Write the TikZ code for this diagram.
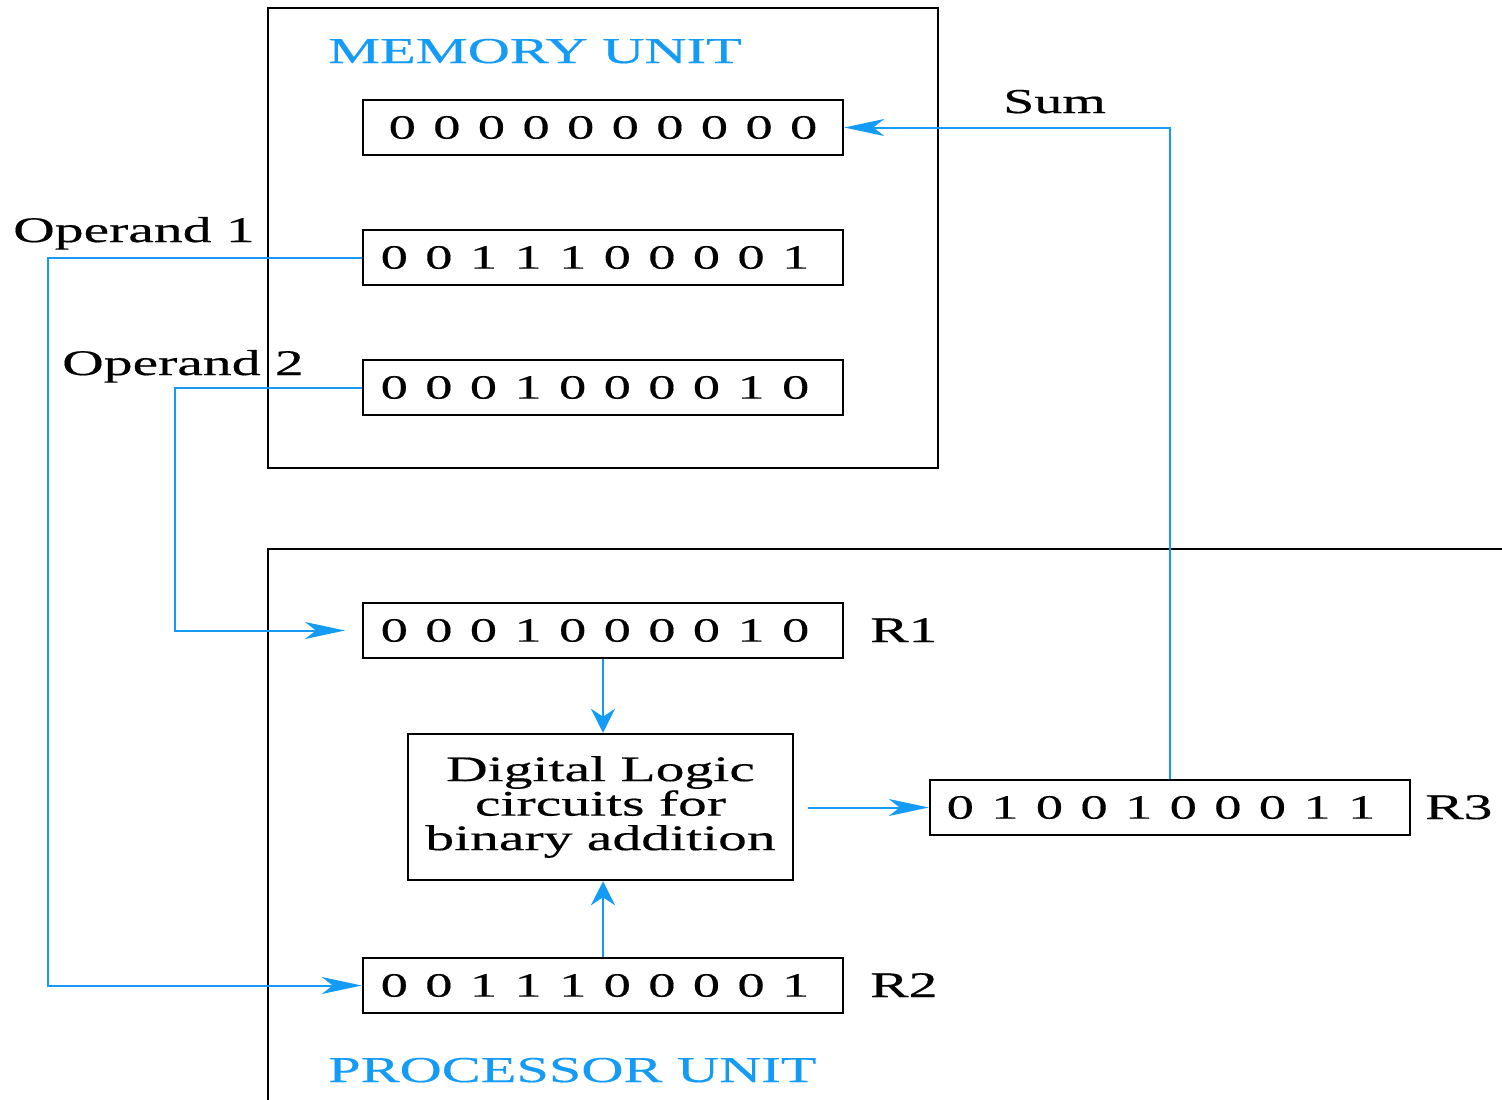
\documentclass[tikz,border=0pt]{standalone}
\usepackage{fontspec}
\setmainfont{Liberation Serif}[FakeStretch=1.6,FakeBold=0.4]
\usetikzlibrary{arrows.meta}
\definecolor{lineblue}{RGB}{20,155,245}
\newcommand\dg[1]{\makebox[44.6pt]{#1}}
\begin{document}
\begin{tikzpicture}[x=1pt,y=-1pt,
  reg/.style={draw,line width=2.5pt,minimum width=480pt,minimum height=55pt,inner sep=0pt,font=\fontsize{34}{34}\selectfont},
  lbl/.style={inner sep=0pt,anchor=base west,font=\fontsize{36}{36}\selectfont},
  ttl/.style={inner sep=0pt,anchor=base west,text=lineblue,font=\fontsize{36.5}{36}\selectfont},
  hconn/.style={draw=lineblue,line width=2pt,-{Stealth[length=40pt,width=17pt,inset=11pt]}},
  vconn/.style={draw=lineblue,line width=2pt,-{Stealth[length=24pt,width=24pt,inset=8pt]}}]
\useasboundingbox (0,0) rectangle (1502,1100);
% memory unit box
\node[draw,line width=2.5pt,minimum width=670pt,minimum height=460pt,inner sep=0pt] (mem) at (603,238) {};
% processor unit frame
\draw[line width=2.5pt] (268,1101) -- (268,549) -- (1503,549);
% titles
\node[ttl] (memt) at (328,63) {MEMORY UNIT};
\node[ttl] (proct) at (328,1082) {PROCESSOR UNIT};
% memory registers
\node[reg] (m1) at (603,127.5) {\dg0\dg0\dg0\dg0\dg0\dg0\dg0\dg0\dg0\dg0};
\node[reg] (m2) at (603,257.5) {\dg0\dg0\dg1\dg1\dg1\dg0\dg0\dg0\dg0\dg1\kern16pt};
\node[reg] (m3) at (603,387.5) {\dg0\dg0\dg0\dg1\dg0\dg0\dg0\dg0\dg1\dg0\kern16pt};
% processor registers
\node[reg] (r1) at (603,630.5) {\dg0\dg0\dg0\dg1\dg0\dg0\dg0\dg0\dg1\dg0\kern16pt};
\node[reg] (r2) at (603,985.5) {\dg0\dg0\dg1\dg1\dg1\dg0\dg0\dg0\dg0\dg1\kern16pt};
\node[reg] (r3) at (1170,807.5) {\dg0\dg1\dg0\dg0\dg1\dg0\dg0\dg0\dg1\dg1\kern18pt};
\node[draw,line width=2.5pt,minimum width=385pt,minimum height=146pt,inner sep=0pt,align=center,font=\fontsize{36}{34.5}\selectfont] (dl) at (600.5,807) {Digital Logic\\circuits for\\binary addition};
% labels
\node[lbl] (l1) at (870,642) {R1};
\node[lbl] (l2) at (870,997) {R2};
\node[lbl] (l3) at (1425,819) {R3};
\node[lbl] (op1) at (13,242) {Operand 1};
\node[lbl] (op2) at (62,375) {Operand 2};
\node[lbl,font=\fontsize{35}{35}\selectfont] (sum) at (1003,113) {Sum};
% connectors
\coordinate (o1a) at (48,257.5);
\coordinate (o2a) at (175,387.5);
\coordinate (r1in) at (345,630.5);
\coordinate (dlout) at (808,807.5);
\draw[hconn] (r3.north) |- (m1.east);
\draw[hconn] (m2.west) -- (o1a) |- (r2.west);
\draw[hconn] (m3.west) -- (o2a) |- (r1in);
\draw[vconn] (r1.south) -- (r1.south |- dl.north);
\draw[vconn] (r2.north) -- (r2.north |- dl.south);
\draw[hconn] (dlout) -- (r3.west);
\end{tikzpicture}
\end{document}
